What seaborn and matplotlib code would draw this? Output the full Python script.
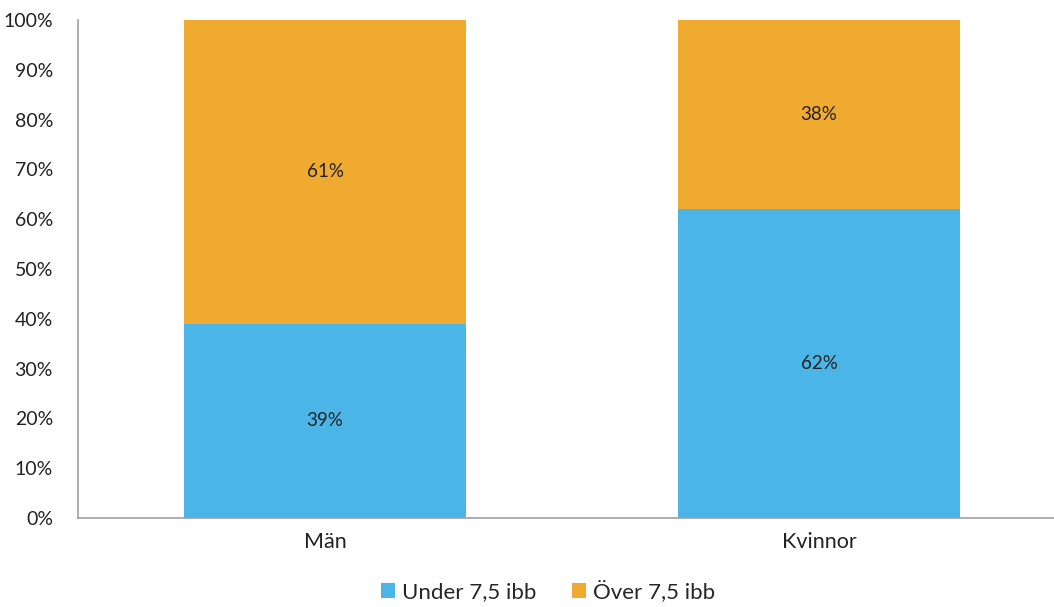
import matplotlib
matplotlib.use("Agg")
import matplotlib.pyplot as plt
import seaborn as sns
import pandas as pd
from matplotlib.patches import Patch
from matplotlib.ticker import FuncFormatter, MultipleLocator

categories = ["Män", "Kvinnor"]
under_vals = [39, 62]
over_vals = [61, 38]
series_names = ["Under 7,5 ibb", "Över 7,5 ibb"]
colors = ["#4BB5E8", "#F0AA30"]

sns.set_theme(style="white")
plt.rcParams['font.family'] = ['Lato', 'DejaVu Sans']

df = pd.DataFrame({"cat": categories, "under": under_vals, "over": over_vals})
df["total"] = df["under"] + df["over"]

fig = plt.figure(figsize=(10.54, 6.07), dpi=100)
ax = fig.add_axes([0.074, 0.1466, 0.9374, 0.8204])

sns.barplot(data=df, x="cat", y="total", color=colors[1], width=0.571,
            saturation=1, ax=ax, linewidth=0)
sns.barplot(data=df, x="cat", y="under", color=colors[0], width=0.571,
            saturation=1, ax=ax, linewidth=0)

for i, (u, o) in enumerate(zip(under_vals, over_vals)):
    ax.text(i, u / 2, f"{u}%", ha="center", va="center", fontsize=13.5, color="#222222")
    ax.text(i, u + o / 2, f"{o}%", ha="center", va="center", fontsize=13.5, color="#222222")

ax.set_ylim(0, 100)
ax.set_xlim(-0.5, 1.5)
ax.yaxis.set_major_locator(MultipleLocator(10))
ax.yaxis.set_major_formatter(FuncFormatter(lambda v, p: f"{int(v)}%"))
ax.set_xlabel("")
ax.set_ylabel("")
ax.tick_params(axis="both", colors="#222222", length=0)
ax.tick_params(axis="y", pad=18, labelsize=14)
ax.tick_params(axis="x", pad=10, labelsize=15.5)
for s in ["top", "right"]:
    ax.spines[s].set_visible(False)
for s in ["left", "bottom"]:
    ax.spines[s].set_color("#A0A0A0")
    ax.spines[s].set_linewidth(1.2)

handles = [Patch(facecolor=c, edgecolor="none", label=n) for c, n in zip(colors, series_names)]
fig.legend(handles=handles, loc="lower center", bbox_to_anchor=(0.52, -0.025), ncol=2,
           frameon=False, fontsize=16, handlelength=0.65, handleheight=0.65,
           handletextpad=0.3, columnspacing=1.6)

fig.savefig("out.png", dpi=100)
